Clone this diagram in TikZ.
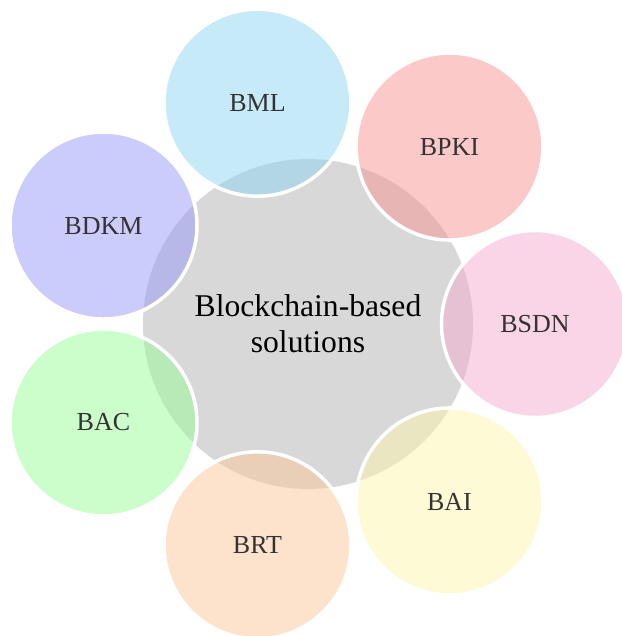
\documentclass[tikz,border=0pt]{standalone}
\usepackage{fontspec}
\setmainfont{Liberation Serif}
\usepackage{tikz}

\definecolor{bmlcol}{RGB}{141,213,241}
\definecolor{bpkicol}{RGB}{249,147,147}
\definecolor{bsdncol}{RGB}{243,171,207}
\definecolor{baicol}{RGB}{253,245,173}
\definecolor{brtcol}{RGB}{251,199,151}
\definecolor{baccol}{RGB}{153,253,153}
\definecolor{bdkmcol}{RGB}{151,151,249}
\definecolor{corecol}{RGB}{216,216,216}

\begin{document}
\begin{tikzpicture}
			\useasboundingbox (-6.16,-6.24) rectangle (6.28,6.48);
			\node (core) [circle,fill=corecol,minimum size=6.6cm,align=center,
				font=\fontsize{18}{20.5}\selectfont] at (0,0) {Blockchain-based\\solutions};
			
			\begin{scope}[every node/.style={circle,draw=white,line width=2pt,fill opacity=0.5,
					text opacity=1,text=black!80,minimum size=3.74cm,font=\fontsize{14.8}{17}\selectfont}]
				\node (BSDN) [fill=bsdncol] at (0:4.54) {BSDN};
				\node (BPKI) [fill=bpkicol] at (51.43:4.54) {BPKI};
				\node (BML) [fill=bmlcol] at (102.86:4.54) {BML};
				\node (BDKM) [fill=bdkmcol] at (154.29:4.54) {BDKM};
				\node (BAC) [fill=baccol] at (205.71:4.54) {BAC};
				\node (BRT) [fill=brtcol] at (257.14:4.54) {BRT};
				\node (BAI) [fill=baicol] at (308.57:4.54) {BAI};
			\end{scope}
		\end{tikzpicture}
\end{document}
